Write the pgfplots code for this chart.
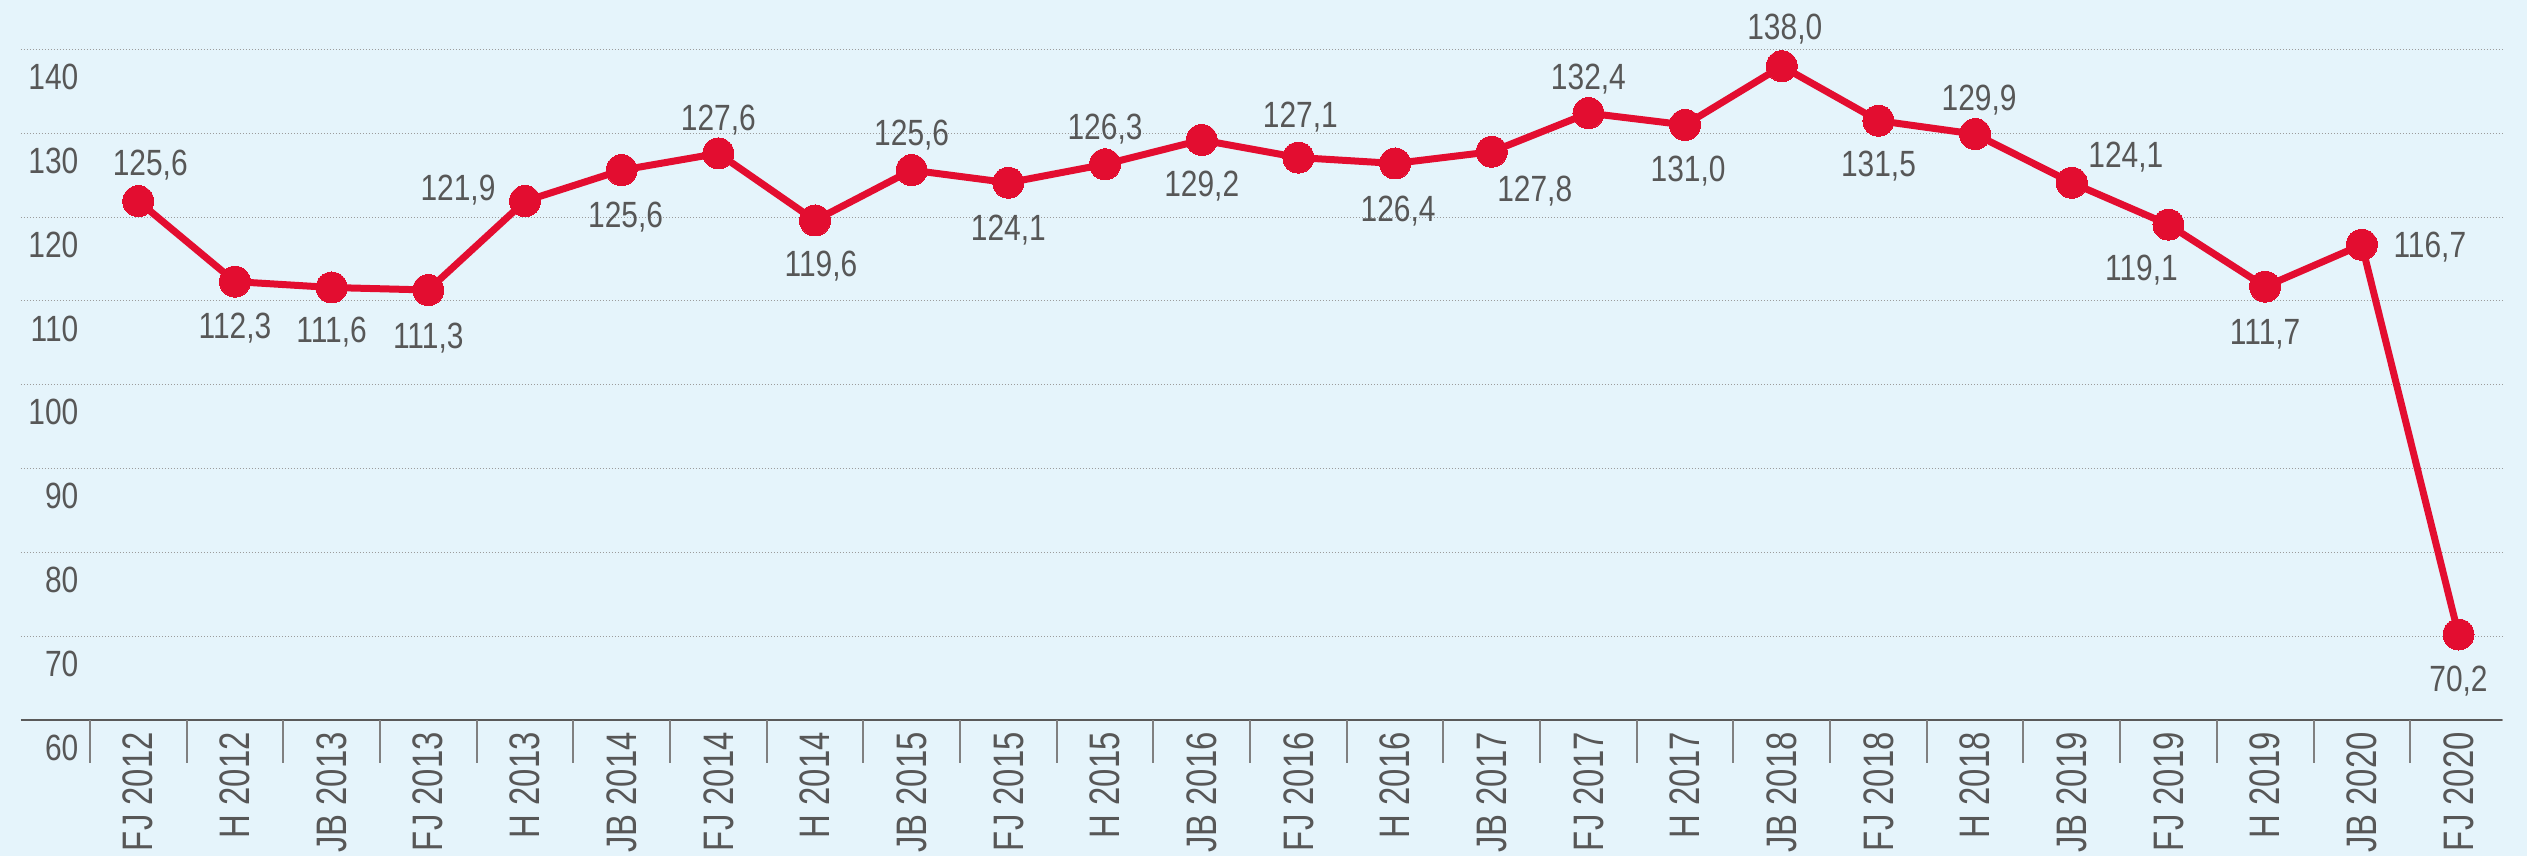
\documentclass[border=0pt]{standalone}
\usepackage{fontspec}
\setmainfont{Liberation Sans}
\newfontfamily\valfont{Liberation Sans}[FakeStretch=0.82]
\newfontfamily\catfont{Liberation Sans}[FakeStretch=0.77]
\usepackage{pgfplots}
\pgfplotsset{compat=1.18}
\usepackage{pgfplotstable}
\definecolor{bg}{HTML}{E5F4FB}
\definecolor{myred}{HTML}{E30D30}
\definecolor{txt}{HTML}{575757}
\definecolor{gridc}{HTML}{9C9C9C}
\definecolor{axisc}{HTML}{5A5A5A}
\definecolor{sepc}{HTML}{808080}

\pgfplotstableread{
x y lab dx dy
0 121.9 125,6 3.6 11.7
1 112.3 112,3 0 -13.2
2 111.6 111,6 0 -12.6
3 111.3 111,3 0 -13.5
4 121.9 121,9 -20.1 4.2
5 125.6 125,6 1.2 -13.2
6 127.6 127,6 0 10.8
7 119.6 119,6 1.8 -12.9
8 125.6 125,6 0 11.4
9 124.1 124,1 0 -13.5
10 126.3 126,3 0 11.4
11 129.2 129,2 0 -13.2
12 127.1 127,1 0.6 12.9
13 126.4 126,4 0.9 -13.5
14 127.8 127,8 12.9 -11.1
15 132.4 132,4 0 11.1
16 131.0 131,0 0.9 -13.2
17 138.0 138,0 0.9 12.0
18 131.5 131,5 0 -12.9
19 129.9 129,9 1.2 11.1
20 124.1 124,1 16.2 8.4
21 119.1 119,1 -8.1 -12.9
22 111.7 111,7 0 -13.5
23 116.7 116,7 20.4 0
24 70.2 70,2 0 -13.2
}\datatable

\begin{document}
\begin{tikzpicture}
\fill[bg] (-6.3pt,-40.8pt) rectangle (751.8pt,216pt);
\begin{axis}[
  at={(0,0)}, anchor=south west,
  scale only axis,
  width=744.3pt, height=216pt,
  xmin=-1.213, xmax=24.45,
  ymin=60, ymax=145.9,
  clip=false,
  /pgf/number format/assume math mode=true,
  axis lines=left,
  axis line style={-},
  y axis line style={draw=none},
  x axis line style={draw=axisc, line width=0.7pt},
  tick align=inside,
  major tick length=0pt,
  xtick={0,...,24},
  xticklabels={FJ 2012, H 2012, JB 2013, FJ 2013, H 2013, JB 2014, FJ 2014, H 2014, JB 2015, FJ 2015, H 2015, JB 2016, FJ 2016, H 2016, JB 2017, FJ 2017, H 2017, JB 2018, FJ 2018, H 2018, JB 2019, FJ 2019, H 2019, JB 2020, FJ 2020},
  xticklabel style={rotate=90, anchor=east, inner sep=0pt, font=\catfont\fontsize{12.8}{14}\selectfont, text=txt},
  xticklabel shift=3.5pt,
  xtick style={draw=none},
  extra x ticks={-0.5,0.5,...,23.5},
  extra x tick labels={},
  extra x tick style={grid=none, tick align=outside, major tick length=12.9pt, xtick style={draw=sepc, line width=0.6pt}},
  ytick={60,70,...,140},
  yticklabels={60,70,80,90,100,110,120,130,140},
  ytick style={draw=none},
  yticklabel style={anchor=north east, inner sep=0pt, xshift=17.4pt, yshift=-4.2pt, font=\valfont\fontsize{10.95}{12}\selectfont, text=txt},
  ymajorgrids,
  grid style={draw=gridc, line width=0.35pt, dash pattern=on 0.35pt off 0.55pt},
]
\addplot[
  color=myred, line width=2.1pt,
  mark=*, mark size=4.65pt, mark options={fill=myred, draw=myred, line width=0pt},
  point meta=explicit symbolic,
  visualization depends on={\thisrow{dx} \as \mydx},
  visualization depends on={\thisrow{dy} \as \mydy},
  nodes near coords,
  every node near coord/.append style={anchor=base, inner sep=0pt, xshift=\mydx pt, yshift=\mydy pt - 3.9pt, font=\valfont\fontsize{10.95}{12}\selectfont, text=txt},
] table[x=x, y=y, meta=lab] {\datatable};
\end{axis}
\pgfresetboundingbox
\useasboundingbox (-6.3pt,-40.8pt) rectangle (751.8pt,216pt);
\end{tikzpicture}
\end{document}
